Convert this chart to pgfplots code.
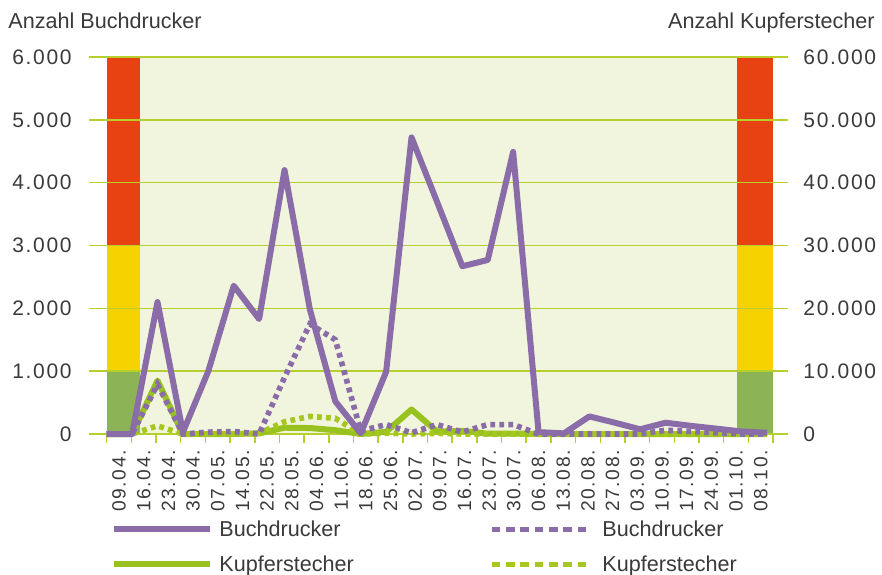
\documentclass[border=0pt]{standalone}
\usepackage{fontspec}
\setmainfont{Liberation Sans}
\newfontfamily\numfont{Liberation Sans}[LetterSpace=8]
\usepackage{pgfplots}
\pgfplotsset{compat=1.18}
\definecolor{cPurple}{HTML}{8A6CA8}
\definecolor{cGreen}{HTML}{98C21F}
\definecolor{cGreenDot}{HTML}{A6C81E}
\definecolor{cGrid}{HTML}{B7CF2C}
\definecolor{cBg}{HTML}{F1F5DE}
\definecolor{cRed}{HTML}{E84212}
\definecolor{cYellow}{HTML}{F6D300}
\definecolor{cBand}{HTML}{8CB356}
\definecolor{cText}{HTML}{3A3A3A}
\pgfplotsset{
  base/.style={scale only axis, width=333.15pt, height=188.5pt,
    at={(0,0)}, anchor=south west, clip=false},
  legsolid/.style={legend image code/.code={\draw[##1] (0pt,0pt) -- (48pt,0pt);}},
  legdot/.style={legend image code/.code={\draw[##1, dash pattern=on 4.3pt off 2.85pt] (0pt,0pt) -- (47.2pt,0pt); \path (50.5pt,0pt);}},
}
\begin{document}
\begin{tikzpicture}
\path[use as bounding box] (-53.35pt,-70pt) rectangle (387.65pt,217pt);

% categories, background, grid
\begin{axis}[base, xmin=0, xmax=27, ymin=0, ymax=6000,
  axis x line*=bottom, axis y line*=left, axis line style={draw=none},
  xtick={0.5,1.5,...,26.5},
  xticklabels={09.04.,16.04.,23.04.,30.04.,07.05.,14.05.,22.05.,28.05.,04.06.,11.06.,18.06.,25.06.,02.07.,09.07.,16.07.,23.07.,30.07.,06.08.,13.08.,20.08.,27.08.,03.09.,10.09.,17.09.,24.09.,01.10.,08.10.},
  minor xtick={0,1,...,27},
  tick align=outside, major tick length=0pt, minor tick length=4.5pt,
  minor tick style={draw=cGrid, line width=0.75pt},
  ytick={0,1000,...,6000},
  yticklabels={0,1.000,2.000,3.000,4.000,5.000,6.000},
  xticklabel shift=8pt,
  xticklabel style={rotate=90, anchor=east, inner sep=0pt, text=cText, font=\fontsize{9.6}{11}\numfont},
  yticklabel style={anchor=east, inner sep=0pt, xshift=-17.35pt, text=cText, font=\fontsize{10.5}{12}\numfont},
]
\addplot[draw=none, fill=cBg] coordinates {(1.35,0) (25.53,0) (25.53,6000) (1.35,6000)} -- cycle;
\addplot[draw=none, fill=cBand] coordinates {(0,0) (1.35,0) (1.35,1000) (0,1000)} -- cycle;
\addplot[draw=none, fill=cYellow] coordinates {(0,1000) (1.35,1000) (1.35,3000) (0,3000)} -- cycle;
\addplot[draw=none, fill=cRed] coordinates {(0,3000) (1.35,3000) (1.35,6000) (0,6000)} -- cycle;
\addplot[draw=none, fill=cBand] coordinates {(25.53,0) (27,0) (27,1000) (25.53,1000)} -- cycle;
\addplot[draw=none, fill=cYellow] coordinates {(25.53,1000) (27,1000) (27,3000) (25.53,3000)} -- cycle;
\addplot[draw=none, fill=cRed] coordinates {(25.53,3000) (27,3000) (27,6000) (25.53,6000)} -- cycle;
\addplot[cGrid, line width=0.75pt] coordinates {(-0.717,0) (27.61,0)};
\addplot[cGrid, line width=0.75pt] coordinates {(-0.717,1000) (27.61,1000)};
\addplot[cGrid, line width=0.75pt] coordinates {(-0.717,2000) (27.61,2000)};
\addplot[cGrid, line width=0.75pt] coordinates {(-0.717,3000) (27.61,3000)};
\addplot[cGrid, line width=0.75pt] coordinates {(-0.717,4000) (27.61,4000)};
\addplot[cGrid, line width=0.75pt] coordinates {(-0.717,5000) (27.61,5000)};
\addplot[cGrid, line width=0.75pt] coordinates {(-0.717,6000) (27.61,6000)};
\end{axis}

% Kupferstecher, right axis
\begin{axis}[base, xmin=0, xmax=26.23, ymin=0, ymax=60000,
  hide x axis, axis y line*=right, axis line style={draw=none},
  scaled y ticks=false,
  ytick={0,10000,...,60000},
  yticklabels={0,10.000,20.000,30.000,40.000,50.000,60.000},
  major tick length=0pt,
  yticklabel style={anchor=west, inner sep=0pt, xshift=15pt, text=cText, font=\fontsize{10.5}{12}\numfont},
]
\addplot[cGreen, line width=3pt, line join=round] coordinates {
  (0,0) (1,0) (2,8500) (3,0) (4,0) (5,0) (6,100) (7,1000) (8,950) (9,600)
  (10,0) (11,350) (12,3900) (13,400) (14,500) (15,50) (16,80) (17,0) (18,0)
  (19,0) (20,0) (21,0) (22,0) (23,0) (24,0) (25,0) (26,0)};
\addplot[cGreenDot, line width=2.8pt, dash pattern=on 2.4pt off 2.1pt] coordinates {
  (0,0) (1,0) (2,1300) (3,0) (4,0) (5,0) (6,100) (7,1950) (8,2800) (9,2500)
  (10,0) (11,100) (12,0) (13,100) (14,0) (15,0) (16,0) (17,0) (18,0)
  (19,0) (20,0) (21,0) (22,0) (23,0) (24,0) (25,0) (26,0)};
\end{axis}

% Buchdrucker, left axis
\begin{axis}[base, xmin=0, xmax=26.23, ymin=0, ymax=6000, hide axis,
  legend columns=2, legend cell align=left,
  legend style={draw=none, fill=none, inner sep=0pt, outer sep=0pt,
    at={(0,0)}, anchor=north west, xshift=2.15pt, yshift=-42.5pt,
    font=\fontsize{10.8}{13}\selectfont, text=cText,
    column sep=3.5pt, row sep=7.5pt,
    nodes={inner sep=0pt, text height=8.9pt, text depth=1.1pt},
    /tikz/every even column/.append style={column sep=67.75pt}},
]
\addplot[forget plot, cPurple, line width=2.8pt, dash pattern=on 2.4pt off 2.1pt] coordinates {
  (0,0) (1,0) (2,790) (3,0) (4,30) (5,40) (6,0) (7,900) (8,1750) (9,1500)
  (10,50) (11,150) (12,20) (13,150) (14,30) (15,150) (16,150) (17,0) (18,0)
  (19,0) (20,0) (21,0) (22,60) (23,40) (24,20) (25,0) (26,0)};
\addplot[forget plot, cPurple, line width=3pt, line join=round] coordinates {
  (0,0) (1,0) (2,2100) (3,30) (4,1000) (5,2360) (6,1830) (7,4200) (8,1980) (9,520)
  (10,10) (11,990) (12,4720) (13,3700) (14,2670) (15,2770) (16,4490) (17,30) (18,10)
  (19,280) (20,180) (21,75) (22,180) (23,130) (24,85) (25,40) (26,20)};
\addlegendimage{cPurple, line width=2.7pt, legsolid}
\addlegendentry{Buchdrucker}
\addlegendimage{cPurple, line width=2.5pt, legdot}
\addlegendentry{Buchdrucker}
\addlegendimage{cGreen, line width=2.7pt, legsolid}
\addlegendentry{Kupferstecher}
\addlegendimage{cGreenDot, line width=2.5pt, legdot}
\addlegendentry{Kupferstecher}
\end{axis}

\node[anchor=base west, inner sep=0pt, text=cText, font=\fontsize{10.8}{13}\selectfont] at (-49.35pt,202.85pt) {Anzahl Buchdrucker};
\node[anchor=base east, inner sep=0pt, text=cText, font=\fontsize{10.8}{13}\selectfont] at (384.15pt,202.85pt) {Anzahl Kupferstecher};
\end{tikzpicture}
\end{document}
